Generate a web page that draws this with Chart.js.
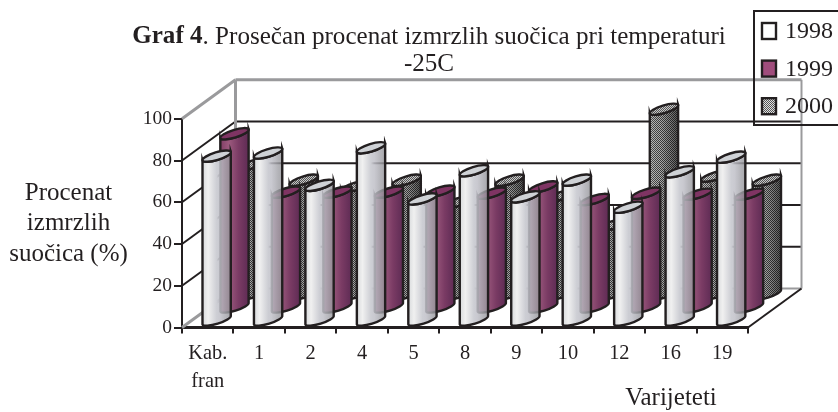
<!DOCTYPE html>
<html>
<head>
<meta charset="utf-8">
<script src="https://cdn.jsdelivr.net/npm/chart.js@4/dist/chart.umd.min.js"></script>
<style>
    html, body { margin: 0; padding: 0; background: #fff; }
    canvas { display: block; }
</style>
</head>
<body>
<canvas id="myChart" width="838" height="412"></canvas>
<script>
const categories = [['Kab.', 'fran'], '1', '2', '4', '5', '8', '9', '10', '12', '16', '19'];
const values1998 = [79, 80.5, 65, 83, 58.5, 72, 59.5, 67.5, 54.5, 71.5, 78.5];
const values1999 = [83.5, 55.5, 55.5, 55.5, 56, 55, 58, 52, 55, 54.5, 54.5];
const values2000 = [62.5, 55, 52, 55, 44.5, 55, 47.5, 33.5, 89, 57, 55];
const yTicks = [0, 20, 40, 60, 80, 100];

const ink = '#231f20';
const wallGrey = '#9a9a9c';
const serif = '"Liberation Serif", serif';
const depthX = 53.5;
const depthY = 39;
const tilt = 17 * Math.PI / 180;

// dither used by the 2000 series and its legend swatch
function makeDither(dark, light) {
    let c = document.createElement('canvas');
    c.width = 2;
    c.height = 2;
    let g = c.getContext('2d');
    g.fillStyle = light;
    g.fillRect(0, 0, 2, 2);
    g.fillStyle = dark;
    g.fillRect(0, 0, 1, 1);
    g.fillRect(1, 1, 1, 1);
    return c;
}

function bodyFill(ctx, k, left, right) {
    let grad = ctx.createLinearGradient(left, 0, right, 0);
    if (k === 0) {
        grad.addColorStop(0, '#d8dadc');
        grad.addColorStop(0.2, '#f0f0f0');
        grad.addColorStop(0.5, 'rgba(205,206,212,1)');
        grad.addColorStop(0.62, 'rgba(192,192,200,0.85)');
        grad.addColorStop(1, 'rgba(145,145,150,0.8)');
    } else if (k === 1) {
        grad.addColorStop(0, '#813e66');
        grad.addColorStop(0.3, '#9c5a7e');
        grad.addColorStop(0.65, '#7a3b64');
        grad.addColorStop(1, '#5e2b54');
    } else {
        grad.addColorStop(0, 'rgba(255,255,255,0.1)');
        grad.addColorStop(0.4, 'rgba(0,0,0,0.05)');
        grad.addColorStop(1, 'rgba(0,0,0,0.5)');
    }
    return grad;
}

function drawCylinder(ctx, el, k) {
    let cx = el.x + depthX * (k + 0.5) / 3;
    let lift = depthY * (k + 0.5) / 3;
    let topY = el.y - lift;
    let baseY = el.base - lift;
    let a = el.width / 2 / Math.cos(tilt);
    let b = el.width * 0.135;

    ctx.beginPath();
    ctx.ellipse(cx, baseY, a, b, -tilt, Math.PI, 0, true);
    ctx.ellipse(cx, topY, a, b, -tilt, 0, Math.PI, false);
    ctx.closePath();
    if (k === 2) {
        ctx.fillStyle = ctx.createPattern(makeDither('#3c3c3c', '#b4b4b4'), 'repeat');
        ctx.fill();
    }
    ctx.fillStyle = bodyFill(ctx, k, cx - el.width / 2, cx + el.width / 2);
    ctx.fill();
    ctx.strokeStyle = ink;
    ctx.lineWidth = 2.4;
    ctx.stroke();

    ctx.beginPath();
    ctx.ellipse(cx, topY, a, b, -tilt, 0, Math.PI * 2);
    if (k === 0) {
        ctx.fillStyle = '#cfd2d6';
    } else if (k === 1) {
        ctx.fillStyle = '#7f3463';
    } else {
        ctx.fillStyle = ctx.createPattern(makeDither('#555555', '#c8c8c8'), 'repeat');
    }
    ctx.fill();
    ctx.stroke();
}

function line(ctx, x1, y1, x2, y2, color, width) {
    ctx.beginPath();
    ctx.moveTo(x1, y1);
    ctx.lineTo(x2, y2);
    ctx.strokeStyle = color;
    ctx.lineWidth = width;
    ctx.stroke();
}

function drawText(ctx, text, x, y, font, align) {
    ctx.font = font;
    ctx.fillStyle = ink;
    ctx.textAlign = align || 'center';
    ctx.textBaseline = 'middle';
    ctx.fillText(text, x, y);
}

const walls = {
    id: 'walls',
    beforeDatasetsDraw(chart) {
        let ctx = chart.ctx;
        let area = chart.chartArea;
        let yScale = chart.scales.y;
        ctx.save();
        yTicks.forEach(tick => {
            let y = yScale.getPixelForValue(tick);
            let edge = tick === 0 || tick === 100;
            line(ctx, area.left, y, area.left + depthX, y - depthY, edge ? wallGrey : ink, edge ? 3 : 2);
            line(ctx, area.left + depthX, y - depthY, area.right + depthX, y - depthY,
                edge ? wallGrey : ink, tick === 100 ? 3 : 2);
        });
        line(ctx, area.left + depthX, area.top - depthY, area.left + depthX, area.bottom - depthY, wallGrey, 3);
        line(ctx, area.right + depthX, area.top - depthY, area.right + depthX, area.bottom - depthY, wallGrey, 2);
        line(ctx, area.right, area.bottom, area.right + depthX, area.bottom - depthY, ink, 2);
        ctx.restore();
    }
};

const cylinders = {
    id: 'cylinders',
    afterDatasetsDraw(chart) {
        let ctx = chart.ctx;
        ctx.save();
        for (let k = 2; k >= 0; k--) {
            chart.getDatasetMeta(k).data.forEach(el => drawCylinder(ctx, el, k));
        }
        ctx.restore();
    }
};

const annotations = {
    id: 'annotations',
    afterDraw(chart) {
        let ctx = chart.ctx;
        ctx.save();

        // title, bold lead-in followed by regular text
        let boldPart = 'Graf 4';
        let restPart = '. Prosečan procenat izmrzlih suočica pri temperaturi';
        let titleSize = '25.1px ';
        ctx.font = 'bold ' + titleSize + serif;
        let boldW = ctx.measureText(boldPart).width;
        ctx.font = titleSize + serif;
        let restW = ctx.measureText(restPart).width;
        let startX = 429 - (boldW + restW) / 2;
        drawText(ctx, boldPart, startX, 37, 'bold ' + titleSize + serif, 'left');
        drawText(ctx, restPart, startX + boldW, 37, titleSize + serif, 'left');
        drawText(ctx, '-25C', 429, 64, titleSize + serif);

        drawText(ctx, 'Procenat', 68.5, 193, '25px ' + serif);
        drawText(ctx, 'izmrzlih', 68.5, 223, '25px ' + serif);
        drawText(ctx, 'suočica (%)', 68.5, 254, '25px ' + serif);
        drawText(ctx, 'Varijeteti', 671, 398, '25px ' + serif);

        // legend box has no fill, the back wall shows through it
        ctx.strokeStyle = ink;
        ctx.lineWidth = 2;
        ctx.strokeRect(754, 11, 100, 114);
        chart.data.datasets.forEach((ds, i) => {
            let top = 23 + i * 37.6;
            if (i === 2) {
                ctx.fillStyle = ctx.createPattern(makeDither('#555555', '#e0e0e0'), 'repeat');
            } else {
                ctx.fillStyle = i === 0 ? '#ffffff' : '#a04d7c';
            }
            ctx.fillRect(762, top, 14, 16);
            ctx.strokeStyle = ink;
            ctx.lineWidth = 2.4;
            ctx.strokeRect(762, top, 14, 16);
            drawText(ctx, ds.label, 785, top + 9, '24px ' + serif, 'left');
        });
        ctx.restore();
    }
};

function seriesDataset(label, values) {
    return {
        label: label,
        data: values,
        backgroundColor: 'transparent',
        borderWidth: 0,
        grouped: false,
        categoryPercentage: 1,
        barPercentage: 0.55
    };
}

new Chart(document.getElementById('myChart').getContext('2d'), {
    type: 'bar',
    data: {
        labels: categories,
        datasets: [
            seriesDataset('1998', values1998),
            seriesDataset('1999', values1999),
            seriesDataset('2000', values2000)
        ]
    },
    plugins: [walls, cylinders, annotations],
    options: {
        responsive: false,
        animation: false,
        layout: { padding: { top: 118.8, right: 90, left: 0, bottom: 0 } },
        plugins: {
            legend: { display: false },
            title: { display: false },
            tooltip: { enabled: false }
        },
        scales: {
            x: {
                afterFit(scale) { scale.height = 84.5; },
                border: { color: ink, width: 3 },
                grid: { drawOnChartArea: false, color: ink, lineWidth: 2, tickLength: 6 },
                ticks: {
                    color: ink,
                    maxRotation: 0,
                    padding: 7,
                    font: { family: serif, size: 20.4, lineHeight: 1.33 }
                }
            },
            y: {
                min: 0,
                max: 100,
                afterFit(scale) { scale.width = 182; },
                afterBuildTicks(scale) { scale.ticks = yTicks.map(v => ({ value: v })); },
                border: { color: ink, width: 2 },
                grid: { drawOnChartArea: false, color: ink, lineWidth: 2, tickLength: 8 },
                ticks: {
                    color: ink,
                    padding: 2,
                    font: { family: serif, size: 19.5 }
                }
            }
        }
    }
});
</script>
</body>
</html>
